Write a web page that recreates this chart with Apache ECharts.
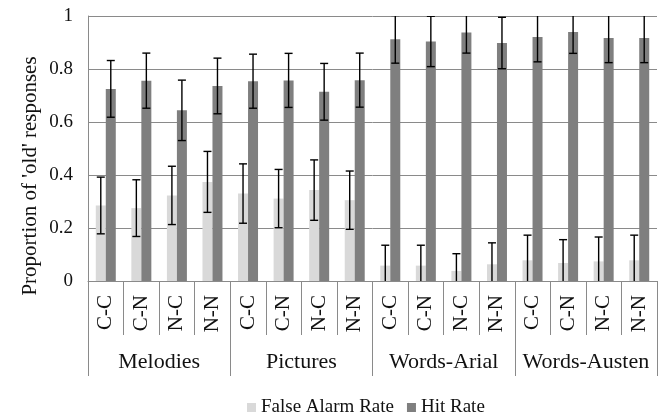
<!DOCTYPE html>
<html>
<head>
<meta charset="utf-8">
<script src="https://cdn.jsdelivr.net/npm/echarts@6/dist/echarts.min.js"></script>
<style>html,body{margin:0;padding:0;background:#fff}#c{width:666px;height:412px}</style>
</head>
<body>
<div id="c"></div>
<script>
const categories = ['C-C','C-N','N-C','N-N','C-C','C-N','N-C','N-N','C-C','C-N','N-C','N-N','C-C','C-N','N-C','N-N'];
const groups = ['Melodies','Pictures','Words-Arial','Words-Austen'];
const yTicks = [0, 0.2, 0.4, 0.6, 0.8, 1];
const falseAlarm = [0.285,0.275,0.323,0.374, 0.330,0.311,0.343,0.305, 0.058,0.058,0.038,0.063, 0.078,0.068,0.074,0.078];
const falseAlarmErr = [0.107,0.107,0.110,0.115, 0.112,0.110,0.114,0.110, 0.077,0.077,0.065,0.081, 0.095,0.088,0.092,0.095];
const hitRate = [0.725,0.756,0.644,0.736, 0.754,0.757,0.714,0.758, 0.912,0.904,0.938,0.898, 0.921,0.940,0.917,0.917];
const hitRateErr = [0.107,0.104,0.114,0.105, 0.102,0.102,0.107,0.102, 0.090,0.095,0.078,0.097, 0.094,0.081,0.093,0.093];

const FONT = 'Liberation Serif';
const GRID = '#8a8a8a';
const BAR_W = 10;

function errSeries(name, vals, errs, offset) {
  return {
    type: 'custom',
    name: name + ' err',
    clip: true,
    silent: true,
    z: 5,
    data: vals.map((v, i) => [i, v, errs[i]]),
    encode: { x: 0, y: 1 },
    renderItem: function (params, api) {
      const i = api.value(0), m = api.value(1), e = api.value(2);
      const hi = api.coord([i, m + e]);
      const lo = api.coord([i, m - e]);
      const x = hi[0] + offset;
      const cw = 4;
      const style = { stroke: '#000', lineWidth: 1.4 };
      return {
        type: 'group',
        children: [
          { type: 'line', shape: { x1: x, y1: hi[1], x2: x, y2: lo[1] }, style },
          { type: 'line', shape: { x1: x - cw, y1: hi[1], x2: x + cw, y2: hi[1] }, style },
          { type: 'line', shape: { x1: x - cw, y1: lo[1], x2: x + cw, y2: lo[1] }, style }
        ]
      };
    }
  };
}

const chart = echarts.init(document.getElementById('c'));
chart.setOption({
  animation: false,
  backgroundColor: '#fff',
  grid: { left: 88, right: 9, top: 16, bottom: 131, containLabel: false },
  legend: {
    data: ['False Alarm Rate', 'Hit Rate'],
    left: 242, top: 393,
    icon: 'rect', itemWidth: 9, itemHeight: 9, itemGap: 13,
    textStyle: { fontFamily: FONT, fontSize: 19, color: '#111' }
  },
  xAxis: [
    {
      type: 'category', data: categories, position: 'bottom',
      axisLine: { show: true, lineStyle: { color: GRID, width: 1 } },
      axisTick: { show: true, interval: 0, length: 54, lineStyle: { color: GRID, width: 1 } },
      axisLabel: { interval: 0, rotate: 90, margin: 14, fontSize: 21, fontFamily: FONT, color: '#111' },
      splitLine: { show: false }
    },
    {
      type: 'category', data: groups, position: 'bottom',
      axisLine: { show: false },
      axisTick: { show: true, interval: 0, length: 95, lineStyle: { color: GRID, width: 1 } },
      axisLabel: { interval: 0, margin: 70, fontSize: 22, fontFamily: FONT, color: '#111' },
      splitLine: { show: false }
    }
  ],
  yAxis: {
    type: 'value', min: yTicks[0], max: yTicks[yTicks.length - 1], interval: 0.2,
    axisLine: { show: true, lineStyle: { color: GRID, width: 1 } },
    axisTick: { show: false },
    axisLabel: { margin: 15, fontSize: 19, fontFamily: FONT, color: '#111' },
    splitLine: { show: true, lineStyle: { color: GRID, width: 1 } }
  },
  graphic: [{
    type: 'text', x: 30, y: 176, rotation: Math.PI / 2,
    style: { text: "Proportion of 'old' responses", fontSize: 21, fontFamily: FONT, fill: '#111', align: 'center', verticalAlign: 'middle' }
  }],
  series: [
    { type: 'bar', name: 'False Alarm Rate', data: falseAlarm, barWidth: BAR_W, barGap: '0%', itemStyle: { color: '#d9d9d9' } },
    { type: 'bar', name: 'Hit Rate', data: hitRate, barWidth: BAR_W, barGap: '0%', itemStyle: { color: '#7f7f7f' } },
    errSeries('False Alarm Rate', falseAlarm, falseAlarmErr, -BAR_W / 2),
    errSeries('Hit Rate', hitRate, hitRateErr, BAR_W / 2)
  ]
});
</script>
</body>
</html>
